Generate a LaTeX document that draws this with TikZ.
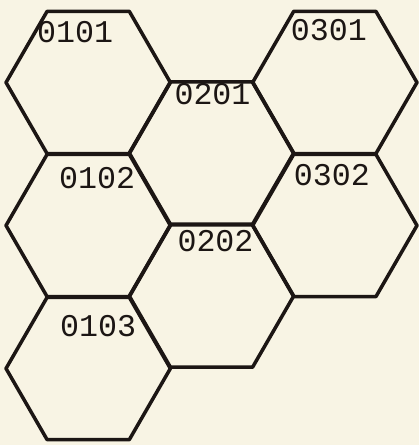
\documentclass[tikz,border=0pt]{standalone}
\usepackage{fontspec}
\setmonofont{Liberation Mono}
\usetikzlibrary{shapes.geometric}
\usetikzlibrary{calc}
\definecolor{paper}{HTML}{F8F4E4}
\definecolor{ink}{HTML}{1C1614}
\tikzset{
  % One cell of the hex map
  hexcell/.style={
    draw=ink, regular polygon, regular polygon sides=6,
    minimum size=3.288cm, inner sep=0pt, outer sep=0pt,
    line width=2pt, line join=round},
  % The cell number
  cellno/.style={
    font=\fontsize{18}{18}\selectfont\ttfamily, text=ink, inner sep=0pt},
}

\begin{document}
\begin{tikzpicture}[x=0.02cm, y=0.02cm]

\fill[paper] (0,0) rectangle (419,445);
\useasboundingbox (0,0) rectangle (419,445);

% column 01
\node[hexcell] (c0101) at (88.2,362.5) {};
\node[hexcell] (c0102) at (88.2,219.5) {};
\node[hexcell] (c0103) at (88.2,76.5) {};
% column 02
\node[hexcell] (c0201) at (211.5,292) {};
\node[hexcell] (c0202) at (211.5,149) {};
% column 03
\node[hexcell] (c0301) at (334.8,362.5) {};
\node[hexcell] (c0302) at (334.8,219.5) {};

\node[cellno] (n0101) at ($(c0101.center)+(-13,50)$) {0101};
\node[cellno] (n0102) at ($(c0102.center)+(9,47)$) {0102};
\node[cellno] (n0103) at ($(c0103.center)+(10,42)$) {0103};
\node[cellno] (n0201) at ($(c0201.center)+(1,59)$) {0201};
\node[cellno] (n0202) at ($(c0202.center)+(4,55)$) {0202};
\node[cellno] (n0301) at ($(c0301.center)+(-6,52)$) {0301};
\node[cellno] (n0302) at ($(c0302.center)+(-3,50)$) {0302};

\end{tikzpicture}
\end{document}
